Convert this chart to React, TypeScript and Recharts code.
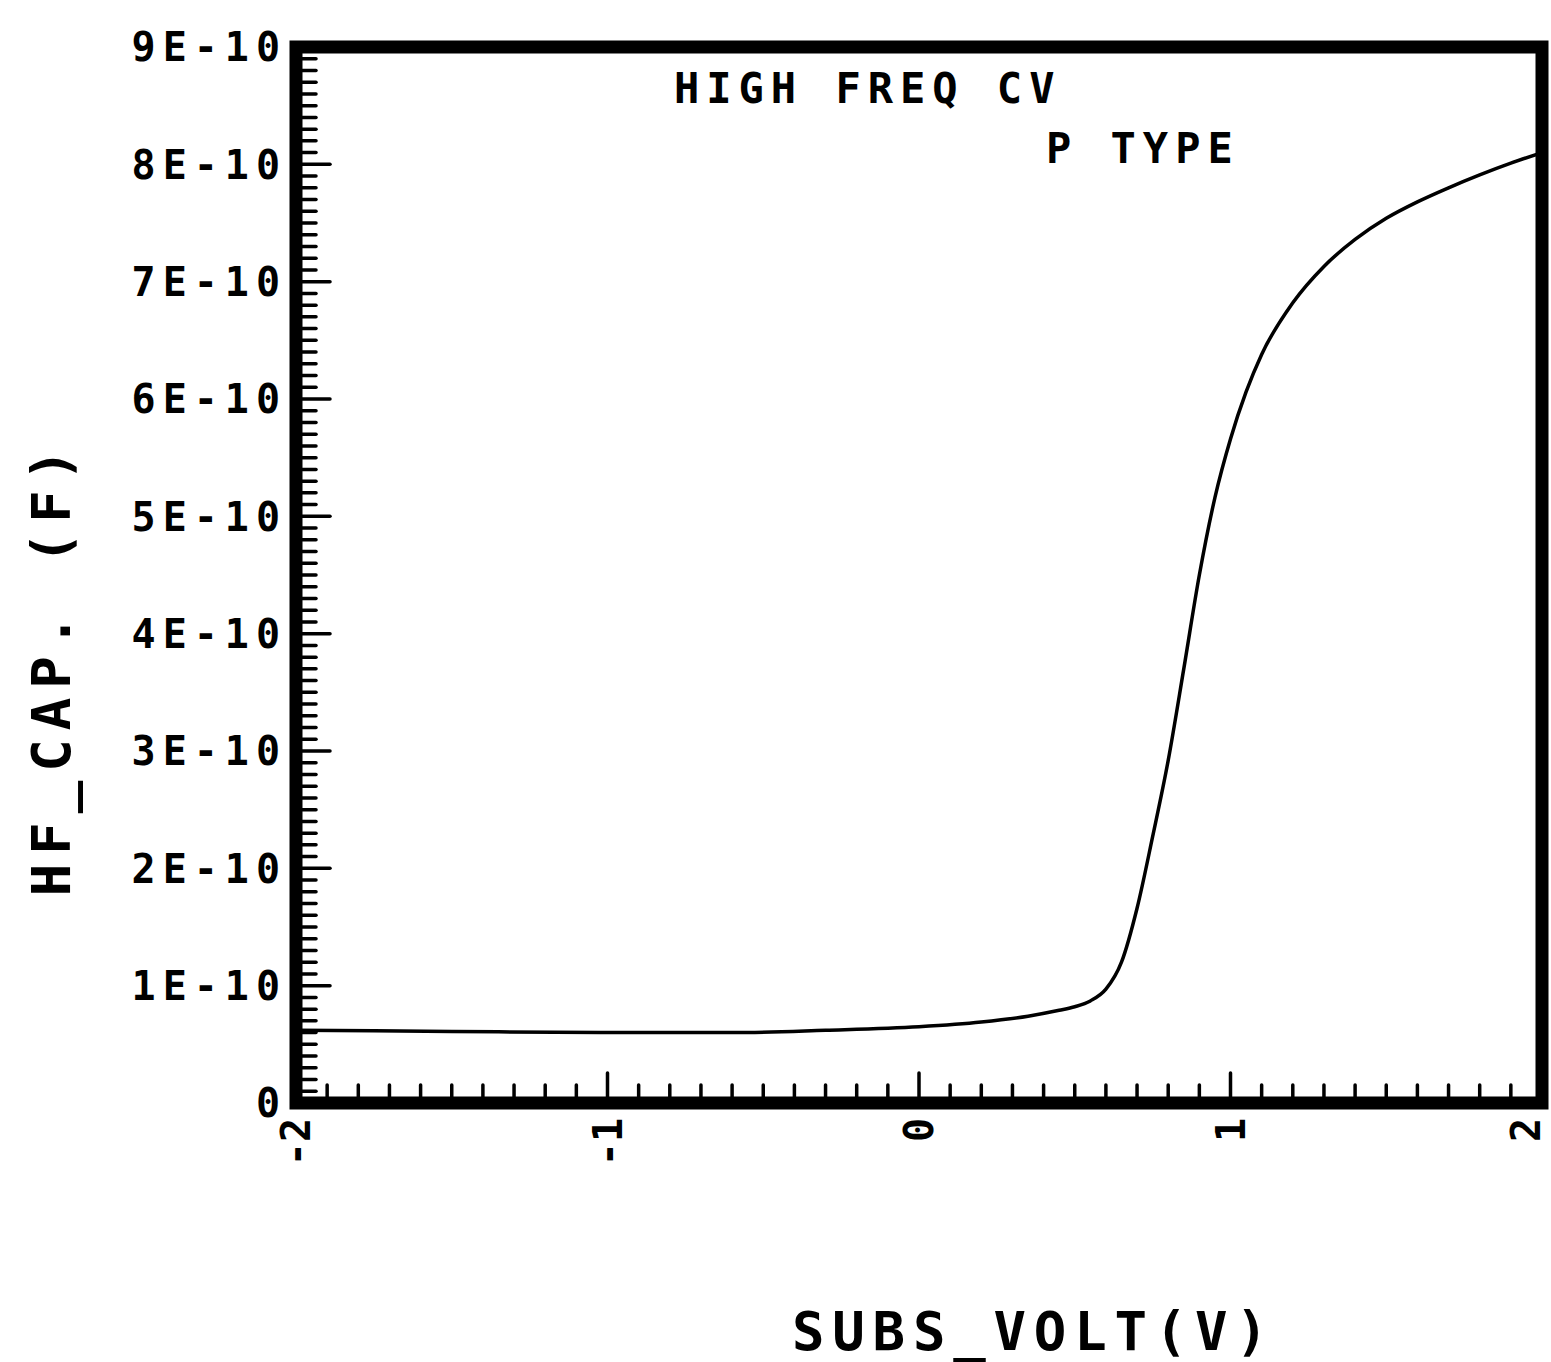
import { LineChart, Line, XAxis, YAxis, ReferenceArea, Customized } from 'recharts'

// substrate voltage (V) and HF capacitance in units of 1E-10 F
const volts = [-2, -1.5, -1, -0.6, -0.3, 0, 0.2, 0.35, 0.45, 0.5, 0.55, 0.6, 0.65, 0.7, 0.75, 0.8, 0.85, 0.9, 0.95, 1.0, 1.05, 1.1, 1.2, 1.3, 1.4, 1.5, 1.6, 1.7, 1.8, 1.9, 2.0]
const capE10 = [0.62, 0.61, 0.6, 0.6, 0.62, 0.65, 0.69, 0.74, 0.79, 0.82, 0.87, 0.97, 1.2, 1.66, 2.27, 2.92, 3.7, 4.5, 5.16, 5.66, 6.06, 6.38, 6.82, 7.13, 7.36, 7.54, 7.68, 7.8, 7.91, 8.01, 8.1]

const xMajor = [-2, -1, 0, 1, 2]
const xLabels = ['-2', '-1', '0', '1', '2']
const yMajor = [0, 1e-10, 2e-10, 3e-10, 4e-10, 5e-10, 6e-10, 7e-10, 8e-10, 9e-10]
const yLabels = ['0', '1E-10', '2E-10', '3E-10', '4E-10', '5E-10', '6E-10', '7E-10', '8E-10', '9E-10']

const title = 'HIGH FREQ CV'
const subtitle = 'P TYPE'
const xTitle = 'SUBS_VOLT(V)'
const yTitle = 'HF_CAP. (F)'

const data = volts.map((v, i) => ({ v, c: capE10[i] * 1e-10 }))

// minor ticks: 10 per major division
const xTicks: number[] = []
for (let i = 0; i <= 40; i++) xTicks.push(-2 + i / 10)
const yTicks: number[] = []
for (let i = 0; i <= 90; i++) yTicks.push(i * 1e-11)

const FONT = '"DejaVu Sans Mono", monospace'

function XTick(props: any) {
  const { x, y, payload } = props
  const idx = xMajor.findIndex((m) => Math.abs(m - payload.value) < 1e-6)
  const major = idx >= 0
  // keep the last label inside the page
  const lx = Math.min(x, 1526)
  return (
    <g>
      <line x1={x} y1={y} x2={x} y2={y - (major ? 30 : 18)} stroke="#000" strokeWidth={3.5} strokeLinecap="round" />
      {major && (
        <text
          x={lx}
          y={1118}
          transform={`rotate(-90, ${lx}, 1118)`}
          textAnchor="end"
          dy="0.36em"
          fontFamily={FONT}
          fontWeight="bold"
          fontSize={40}
          fill="#000"
        >
          {xLabels[idx]}
        </text>
      )}
    </g>
  )
}

function YTick(props: any) {
  const { x, y, payload } = props
  const idx = yMajor.findIndex((m) => Math.abs(m - payload.value) < 1e-13)
  const major = idx >= 0
  return (
    <g>
      <line x1={x} y1={y} x2={x + (major ? 34 : 20)} y2={y} stroke="#000" strokeWidth={3.5} strokeLinecap="round" />
      {major && (
        <text
          x={287}
          y={y}
          textAnchor="end"
          dy="0.36em"
          fontFamily={FONT}
          fontWeight="bold"
          fontSize={40}
          fill="#000"
          style={{ letterSpacing: 7 }}
        >
          {yLabels[idx]}
        </text>
      )}
    </g>
  )
}

function Titles() {
  const t = { fontFamily: FONT, fontWeight: 'bold' as const, fill: '#000' }
  return (
    <g>
      <text x={674} y={103} fontSize={42} style={{ letterSpacing: 7 }} {...t}>{title}</text>
      <text x={1046} y={163} fontSize={42} style={{ letterSpacing: 7 }} {...t}>{subtitle}</text>
      <text x={792} y={1350} fontSize={54} style={{ letterSpacing: 7.8 }} {...t}>{xTitle}</text>
      <text x={70} y={668} fontSize={54} textAnchor="middle" transform="rotate(-90, 70, 668)" style={{ letterSpacing: 9 }} {...t}>{yTitle}</text>
    </g>
  )
}

export default function App() {
  return (
    <div style={{ position: 'absolute', left: 0, top: 0, width: 1551, height: 1362, background: '#fff' }}>
      <LineChart width={1551} height={1362} data={data} margin={{ top: 47, right: 9, bottom: 0, left: 0 }}>
        <XAxis
          dataKey="v"
          type="number"
          domain={[-2, 2]}
          ticks={xTicks}
          interval={0}
          tick={XTick}
          tickLine={false}
          tickSize={0}
          tickMargin={0}
          axisLine={false}
          height={259}
          allowDataOverflow
        />
        <YAxis
          type="number"
          domain={[0, 9e-10]}
          ticks={yTicks}
          interval={0}
          tick={YTick}
          tickLine={false}
          tickSize={0}
          tickMargin={0}
          axisLine={false}
          width={296}
          allowDataOverflow
        />
        <ReferenceArea x1={-2} x2={2} y1={0} y2={9e-10} fill="none" stroke="#000" strokeWidth={13} />
        <Line dataKey="c" type="monotone" stroke="#000" strokeWidth={3.5} dot={false} isAnimationActive={false} />
        <Customized component={Titles} />
      </LineChart>
    </div>
  )
}
